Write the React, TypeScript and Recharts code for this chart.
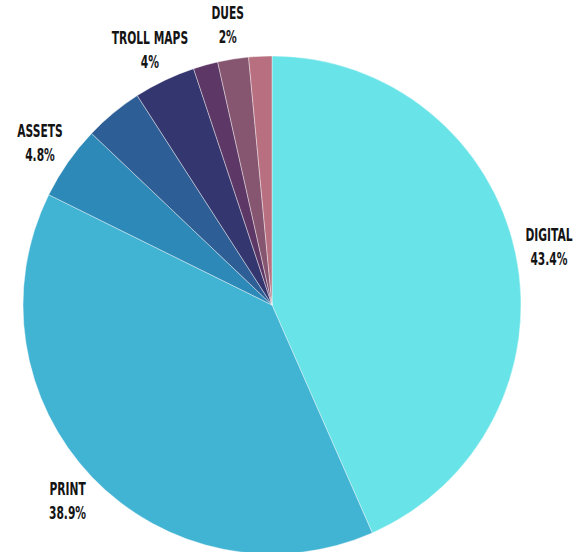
import { PieChart, Pie, Cell } from "recharts"

const names = ["DIGITAL", "PRINT", "ASSETS", "", "TROLL MAPS", "", "DUES", ""]
const values = [43.4, 38.9, 4.8, 3.8, 4, 1.6, 2, 1.5]
const valueLabels = ["43.4%", "38.9%", "4.8%", "", "4%", "", "2%", ""]
const colors = ["#68e3e8", "#41b3d3", "#2d8ab8", "#2e5e96", "#343670", "#5d3866", "#865570", "#b87080"]

const data = names.map((name, i) => ({ name, value: values[i], pct: valueLabels[i] }))

const RAD = Math.PI / 180
const labelFont = "'Liberation Sans Narrow', 'DejaVu Sans Condensed', sans-serif"

function renderLabel(props: any) {
  const { cx, cy, midAngle, outerRadius, index } = props
  const d = data[index]
  if (!d.name) return null
  const r = outerRadius + 34
  const x = cx + r * Math.cos(-midAngle * RAD)
  const y = cy + r * Math.sin(-midAngle * RAD)
  return (
    <g transform={`translate(${x},${y}) scale(0.7,1)`}>
      <text x={0} y={-6} textAnchor="middle" fill="#141414" fontSize={17} fontWeight="bold" fontFamily={labelFont}>
        {d.name}
      </text>
      <text x={0} y={18} textAnchor="middle" fill="#141414" fontSize={17} fontWeight="bold" fontFamily={labelFont}>
        {d.pct}
      </text>
    </g>
  )
}

export default function App() {
  return (
    <div style={{ position: "absolute", left: 0, top: 0, width: 587, height: 552, background: "#fff" }}>
      <PieChart width={587} height={552} margin={{ top: 0, right: 0, bottom: 0, left: 0 }}>
        <Pie
          data={data}
          dataKey="value"
          cx={272}
          cy={305}
          outerRadius={249}
          startAngle={90}
          endAngle={-270}
          stroke="#ffffff"
          strokeWidth={0.4}
          label={renderLabel}
          labelLine={false}
          isAnimationActive={false}
        >
          {data.map((d, i) => (
            <Cell key={i} fill={colors[i]} />
          ))}
        </Pie>
      </PieChart>
    </div>
  )
}
